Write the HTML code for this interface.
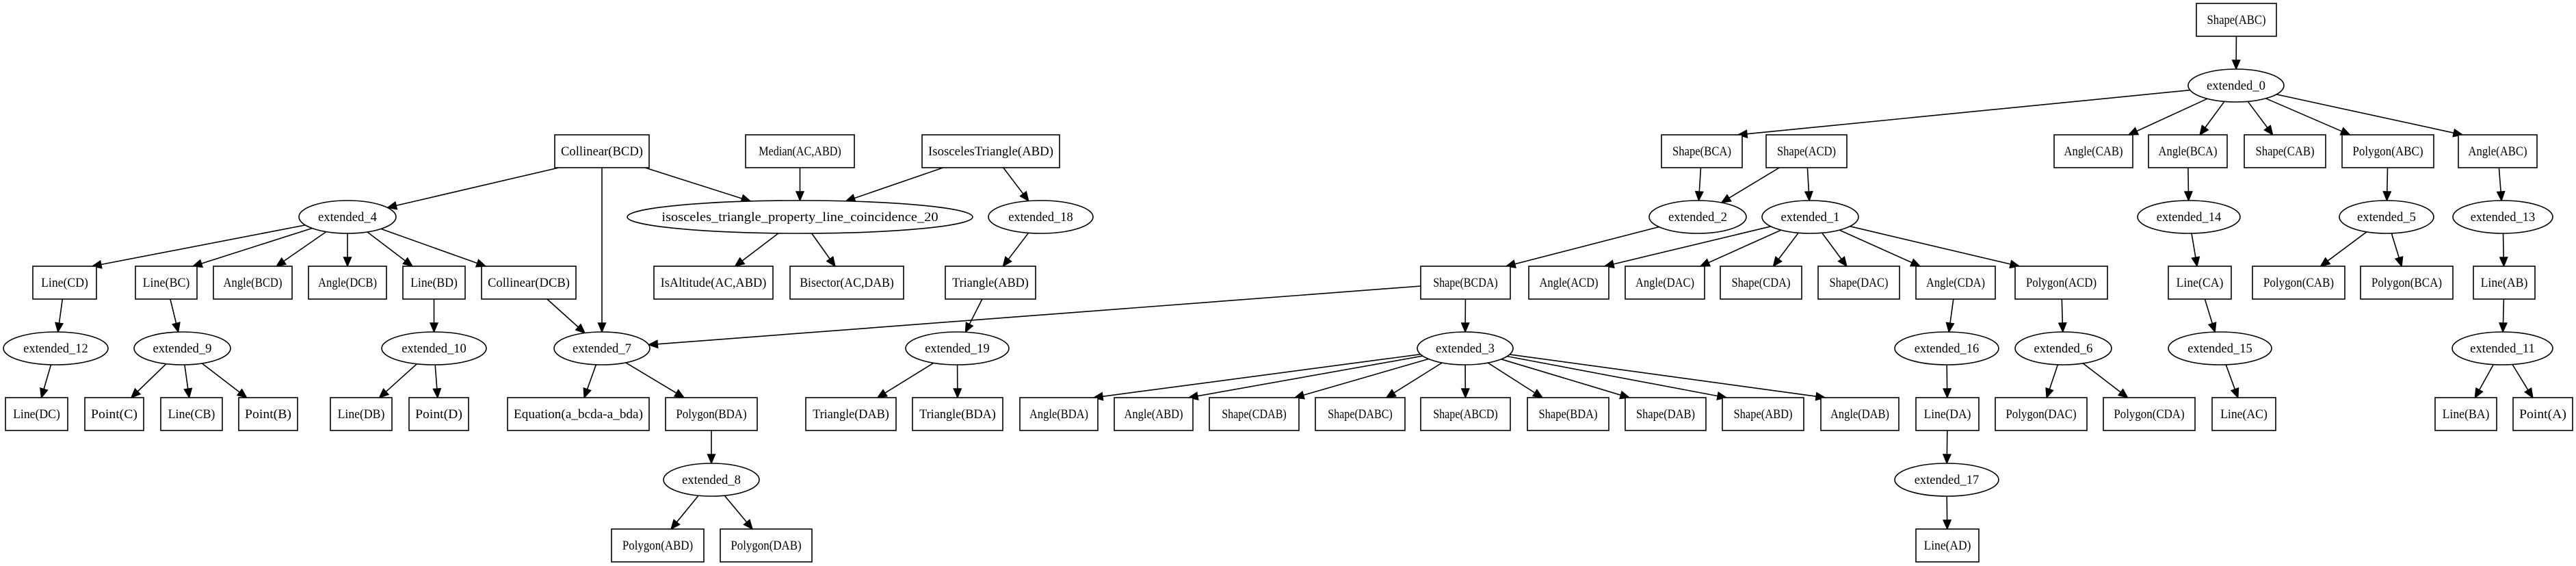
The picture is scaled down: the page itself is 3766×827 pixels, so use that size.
<!DOCTYPE html>
<html><head><meta charset="utf-8">
<style>
html,body{margin:0;padding:0;background:#fff;width:3766px;height:827px;overflow:hidden}
svg{display:block}
text{font-family:"Liberation Serif",serif;font-size:18.5px;fill:#000}
</style></head><body>
<svg id="g" width="3766" height="827" xmlns="http://www.w3.org/2000/svg"></svg>
<script>
var R=[5,197,389,581,773], E=[125,317,509,701];
var N=[
['sabc','Shape(ABC)','b',3211,3328,R[0]],
['e0','extended_0','e',3199,3339,E[0]],
['colbcd','Collinear(BCD)','b',811,949,R[1]],
['med','Median(AC,ABD)','b',1090,1249,R[1]],
['iso','IsoscelesTriangle(ABD)','b',1348,1549,R[1]],
['sbca','Shape(BCA)','b',2429,2547,R[1]],
['sacd','Shape(ACD)','b',2582,2700,R[1]],
['acab','Angle(CAB)','b',3003,3118,R[1]],
['abca','Angle(BCA)','b',3141,3256,R[1]],
['scab','Shape(CAB)','b',3281,3400,R[1]],
['pabc','Polygon(ABC)','b',3424,3558,R[1]],
['aabc','Angle(ABC)','b',3594,3709,R[1]],
['e4','extended_4','e',437,579,E[1]],
['i20','isosceles_triangle_property_line_coincidence_20','e',917,1422,E[1]],
['e18','extended_18','e',1445,1598,E[1]],
['e2','extended_2','e',2411,2553,E[1]],
['e1','extended_1','e',2576,2717,E[1]],
['e14','extended_14','e',3125,3275,E[1]],
['e5','extended_5','e',3420,3558,E[1]],
['e13','extended_13','e',3586,3732,E[1]],
['lcd','Line(CD)','b',48,141,R[2]],
['lbc','Line(BC)','b',198,288,R[2]],
['abcd','Angle(BCD)','b',312,427,R[2]],
['adcb','Angle(DCB)','b',451,565,R[2]],
['lbd','Line(BD)','b',589,680,R[2]],
['coldcb','Collinear(DCB)','b',704,842,R[2]],
['isalt','IsAltitude(AC,ABD)','b',956,1130,R[2]],
['bis','Bisector(AC,DAB)','b',1155,1321,R[2]],
['tabd','Triangle(ABD)','b',1382,1514,R[2]],
['sbcda','Shape(BCDA)','b',2077,2208,R[2]],
['aacd','Angle(ACD)','b',2235,2352,R[2]],
['adac','Angle(DAC)','b',2376,2492,R[2]],
['scda','Shape(CDA)','b',2515,2634,R[2]],
['sdac','Shape(DAC)','b',2658,2777,R[2]],
['acda','Angle(CDA)','b',2801,2917,R[2]],
['pacd','Polygon(ACD)','b',2946,3081,R[2]],
['lca','Line(CA)','b',3170,3262,R[2]],
['pcab','Polygon(CAB)','b',3293,3428,R[2]],
['pbca','Polygon(BCA)','b',3451,3586,R[2]],
['lab','Line(AB)','b',3616,3706,R[2]],
['e12','extended_12','e',5,158,E[2]],
['e9','extended_9','e',196,337,E[2]],
['e10','extended_10','e',558,711,E[2]],
['e7','extended_7','e',810,950,E[2]],
['e19','extended_19','e',1324,1475,E[2]],
['e3','extended_3','e',2072,2212,E[2]],
['e16','extended_16','e',2770,2922,E[2]],
['e6','extended_6','e',2946,3087,E[2]],
['e15','extended_15','e',3170,3321,E[2]],
['e11','extended_11','e',3585,3732,E[2]],
['ldc','Line(DC)','b',8,99,R[3]],
['pc','Point(C)','b',124,210,R[3]],
['lcb','Line(CB)','b',235,325,R[3]],
['pb','Point(B)','b',349,435,R[3]],
['ldb','Line(DB)','b',483,573,R[3]],
['pd','Point(D)','b',598,685,R[3]],
['eq','Equation(a_bcda-a_bda)','b',742,949,R[3]],
['pbda','Polygon(BDA)','b',973,1107,R[3]],
['tdab','Triangle(DAB)','b',1178,1310,R[3]],
['tbda','Triangle(BDA)','b',1334,1466,R[3]],
['abda','Angle(BDA)','b',1491,1605,R[3]],
['aabd','Angle(ABD)','b',1629,1744,R[3]],
['scdab','Shape(CDAB)','b',1768,1899,R[3]],
['sdabc','Shape(DABC)','b',1923,2054,R[3]],
['sabcd','Shape(ABCD)','b',2077,2208,R[3]],
['sbda','Shape(BDA)','b',2233,2352,R[3]],
['sdab','Shape(DAB)','b',2376,2494,R[3]],
['sabd','Shape(ABD)','b',2518,2637,R[3]],
['adab','Angle(DAB)','b',2662,2776,R[3]],
['lda','Line(DA)','b',2801,2893,R[3]],
['pdac','Polygon(DAC)','b',2917,3051,R[3]],
['pcda','Polygon(CDA)','b',3075,3209,R[3]],
['lac','Line(AC)','b',3234,3327,R[3]],
['lba','Line(BA)','b',3560,3650,R[3]],
['pa','Point(A)','b',3674,3761,R[3]],
['e8','extended_8','e',970,1110,E[3]],
['e17','extended_17','e',2770,2922,E[3]],
['pabd','Polygon(ABD)','b',894,1029,R[4]],
['pdab','Polygon(DAB)','b',1053,1187,R[4]],
['lad','Line(AD)','b',2801,2893,R[4]]
];
var ED=[
['sabc','e0'],['e0','sbca'],['e0','acab'],['e0','abca'],['e0','scab'],['e0','pabc'],['e0','aabc'],
['sbca','e2'],['sacd','e2'],['sacd','e1'],['e2','sbcda'],
['e1','aacd'],['e1','adac'],['e1','scda'],['e1','sdac'],['e1','acda'],['e1','pacd'],
['abca','e14'],['e14','lca'],['lca','e15'],['e15','lac'],
['pabc','e5'],['e5','pcab'],['e5','pbca'],
['aabc','e13'],['e13','lab'],['lab','e11'],['e11','lba'],['e11','pa'],
['acda','e16'],['e16','lda'],['lda','e17'],['e17','lad'],
['pacd','e6'],['e6','pdac'],['e6','pcda'],
['sbcda','e3'],['e3','abda'],['e3','aabd'],['e3','scdab'],['e3','sdabc'],['e3','sabcd'],['e3','sbda'],['e3','sdab'],['e3','sabd'],['e3','adab'],
['sbcda','e7'],
['colbcd','e4'],['colbcd','e7'],['colbcd','i20'],['med','i20'],['iso','i20'],['iso','e18'],
['i20','isalt'],['i20','bis'],['e18','tabd'],['tabd','e19'],['e19','tdab'],['e19','tbda'],
['e4','lcd'],['e4','lbc'],['e4','abcd'],['e4','adcb'],['e4','lbd'],['e4','coldcb'],
['lcd','e12'],['e12','ldc'],['lbc','e9'],['e9','pc'],['e9','lcb'],['e9','pb'],
['lbd','e10'],['e10','ldb'],['e10','pd'],['coldcb','e7'],
['e7','eq'],['e7','pbda'],['pbda','e8'],['e8','pabd'],['e8','pdab']
];
var M={};
N.forEach(function(n){
  var o={t:n[2],label:n[1]};
  if(n[2]=='b'){o.cx=(n[3]+n[4])/2;o.cy=n[5]+24;o.hw=(n[4]-n[3])/2;o.hh=24;}
  else{o.cx=(n[3]+n[4])/2;o.cy=n[5];o.hw=(n[4]-n[3])/2;o.hh=24;}
  M[n[0]]=o;
});
function clipE(o,dx,dy){
  var t=1/Math.sqrt((dx/o.hw)*(dx/o.hw)+(dy/o.hh)*(dy/o.hh));
  return [o.cx+dx*t,o.cy+dy*t];
}
function clipB(o,dx,dy){
  var t=Math.min(dx?o.hw/Math.abs(dx):1e9,dy?o.hh/Math.abs(dy):1e9);
  return [o.cx+dx*t,o.cy+dy*t];
}
// point on vertical face of box (top if sgn<0, bottom if sgn>0) toward other point
function faceB(o,ox,oy,sgn){
  var y=o.cy+sgn*o.hh;
  var dx=ox-o.cx,dy=oy-o.cy;
  var x=o.cx+dx*(o.hh/Math.abs(dy));
  var lo=o.cx-o.hw+6,hi=o.cx+o.hw-6;
  x=Math.max(lo,Math.min(hi,x));
  return [x,y];
}
var s='';
ED.forEach(function(e){
  var a=M[e[0]],b=M[e[1]];
  var dx=b.cx-a.cx,dy=b.cy-a.cy;
  var p,q;
  var side=Math.abs(dx)>10*Math.abs(dy);
  if(side){
    p=a.t=='b'?clipB(a,dx,dy):clipE(a,dx,dy);
    q=b.t=='b'?clipB(b,-dx,-dy):clipE(b,-dx,-dy);
  } else {
    if(a.t=='b') p=faceB(a,b.cx,b.cy,1);
    if(b.t=='b') q=faceB(b,a.cx,a.cy,-1);
    if(a.t=='e'){var tx=q?q[0]:b.cx,ty=q?q[1]:b.cy;p=clipE(a,tx-a.cx,ty-a.cy);}
    if(b.t=='e'){q=clipE(b,p[0]-b.cx,p[1]-b.cy);}
  }
  var L=Math.hypot(q[0]-p[0],q[1]-p[1]);
  var ux=(q[0]-p[0])/L,uy=(q[1]-p[1])/L;
  var al=13,aw=5.5;
  var bx=q[0]-ux*al,by=q[1]-uy*al;
  s+='<line x1="'+p[0].toFixed(1)+'" y1="'+p[1].toFixed(1)+'" x2="'+bx.toFixed(1)+'" y2="'+by.toFixed(1)+'" stroke="#000" stroke-width="1.6"/>';
  s+='<polygon points="'+q[0].toFixed(1)+','+q[1].toFixed(1)+' '+(bx-uy*aw).toFixed(1)+','+(by+ux*aw).toFixed(1)+' '+(bx+uy*aw).toFixed(1)+','+(by-ux*aw).toFixed(1)+'" fill="#000" stroke="#000" stroke-width="1.4"/>';
});
for(var k in M){
  var o=M[k];
  if(o.t=='b') s+='<rect x="'+(o.cx-o.hw)+'" y="'+(o.cy-o.hh)+'" width="'+(2*o.hw)+'" height="'+(2*o.hh)+'" fill="#fff" stroke="#000" stroke-width="1.6"/>';
  else s+='<ellipse cx="'+o.cx+'" cy="'+o.cy+'" rx="'+o.hw+'" ry="'+o.hh+'" fill="#fff" stroke="#000" stroke-width="1.6"/>';
  s+='<text x="'+o.cx+'" y="'+(o.cy+6)+'" text-anchor="middle" textLength="'+Math.min(o.label.length*8.6,2*o.hw-18)+'" lengthAdjust="spacingAndGlyphs">'+o.label+'</text>';
}
document.getElementById('g').innerHTML=s;
</script>
</body></html>
